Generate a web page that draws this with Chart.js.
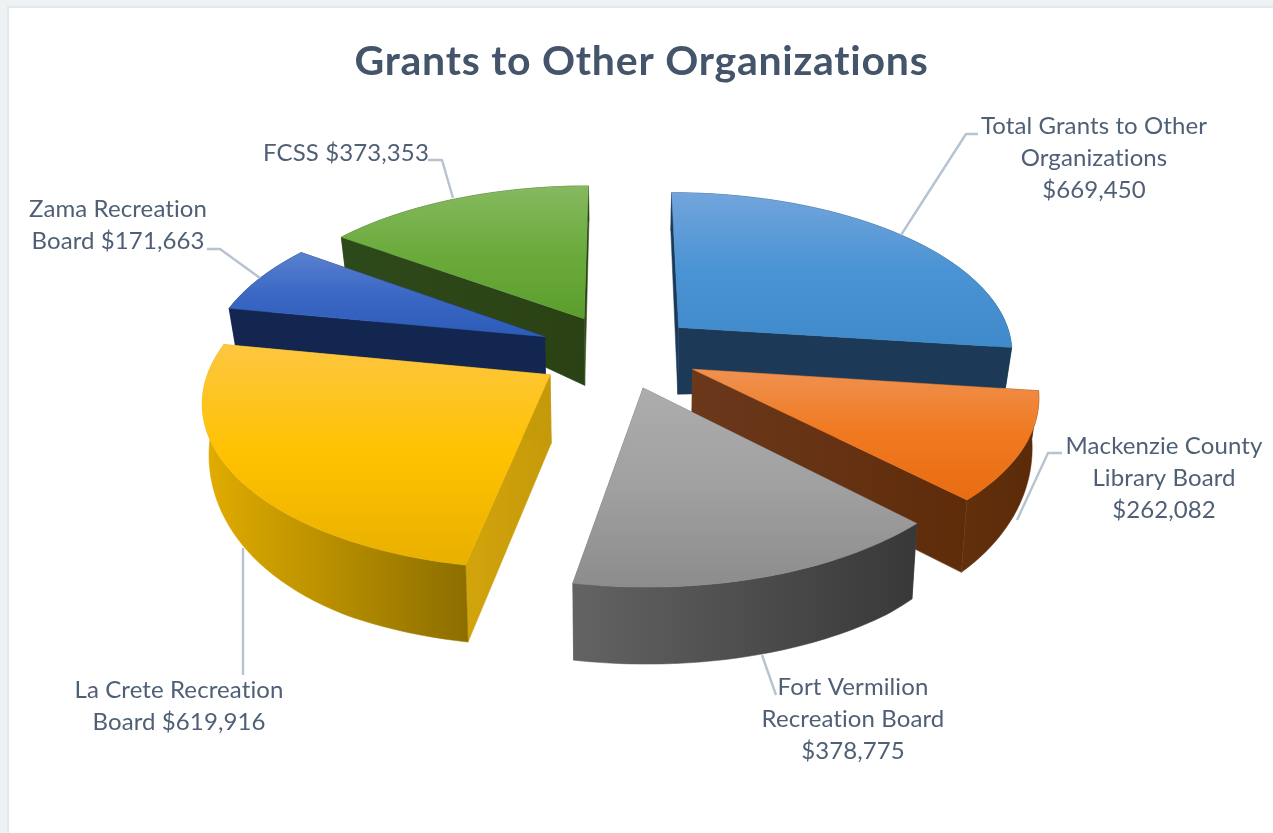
<!DOCTYPE html>
<html><head><meta charset="utf-8">
<style>
html,body{margin:0;padding:0;width:1273px;height:833px;overflow:hidden;background:#edf3f4}
#frame{position:absolute;left:7px;top:6px;width:1266px;height:827px;background:#fff;border-left:2px solid #e2e9ee;border-top:2px solid #e2e9ee;box-sizing:border-box}
#wrap{position:absolute;left:5px;top:0;width:1273px;height:833px}
</style>
<script src="https://cdn.jsdelivr.net/npm/chart.js@4/dist/chart.umd.min.js"></script>
</head><body>
<div id="frame"></div>
<div id="wrap"><canvas id="c" width="1273" height="833"></canvas></div>
<script>
const categories = ["Total Grants to Other Organizations","Mackenzie County Library Board","Fort Vermilion Recreation Board","La Crete Recreation Board","Zama Recreation Board","FCSS"];
const values = [669450,262082,378775,619916,171663,373353];
const chartTitle = "Grants to Other Organizations";
const labelWordsPerLine = [[4,1,1],[2,2,1],[2,2,1],[3,2],[2,2],[2]];
const sliceOffsets = [78,78,75,81,81,79];

// styling
const topColors = [["#72a5dc","#4a93d4","#3f8aca"],["#ef9150","#f0791f","#e86c12"],["#adadad","#a0a0a0","#8c8c8c"],["#fdc640","#ffc200","#e8b000"],["#5a80cf","#3a68c4","#2d5cb8"],["#86b960","#6bab3c","#5c9e2e"]];
const wallColors = [["#1c3a58","#1a3a56"],["#63300d","#5a2a08"],["#636363","#383838"],["#e2ad00","#8c6e00"],["#14264f","#122650"],["#2d4a1b","#283f14"]];
const radialColors = [["#1c3a58","#1c3a58"],["#6c381c","#5f2c0a"],["#636363","#505050"],["#d2a40c","#c59a0a"],["#14264f","#122650"],["#2f4a1a","#2a4114"]];
const drawOrder = [0,5,4,3,1,2];
const labelBoxes = [
 {x:1089,y:126,leader:[[973,134],[961,134],[896,235]]},
 {x:1159,y:446,leader:[[1057,453],[1043,453],[1012,520]]},
 {x:848,y:687,leader:[[771,695],[757,655]]},
 {x:174,y:690,leader:[[238,675],[238,548]]},
 {x:113,y:209,leader:[[202,249],[215,249],[255,278]]},
 {x:341,y:153,leader:[[423,160],[437,160],[448,198]]}
];
const TEXT="#4f5f76", TITLE="#44546a", LEADER="#b7c3d0";

// projection of the pie plane (canvas coords; canvas is shifted 5px right)
const view={x:615,y:352,k:336,sy:160,p:0.14};
function top3d(u,v){const w=1-view.p*v;return {x:view.x+u*view.k/w,y:view.y+v*view.sy/w};}
function depth(u,v){const n=Math.min(1,Math.max(0,v));return 68+9*n-20*u*u*(1-n)-(v<0?22*v*v:0);}
function bot3d(u,v){const t=top3d(u,v);return {x:t.x+(view.x-t.x)*0.016,y:t.y+depth(u,v)};}

function sliceGeom(arc){
  const mid=(arc.startAngle+arc.endAngle)/2, off=arc.options.offset/arc.outerRadius;
  const ou=off*Math.cos(mid), ov=off*Math.sin(mid);
  const rim=[];const n=48;
  for(let i=0;i<=n;i++){const a=arc.startAngle+(arc.endAngle-arc.startAngle)*i/n;rim.push([Math.cos(a)+ou,Math.sin(a)+ov]);}
  return {tip:[ou,ov],rim};
}
function poly(ctx,pts){ctx.beginPath();pts.forEach((p,i)=>i?ctx.lineTo(p.x,p.y):ctx.moveTo(p.x,p.y));ctx.closePath();}
function hGrad(ctx,pts,c){const xs=pts.map(p=>p.x);const g=ctx.createLinearGradient(Math.min(...xs),0,Math.max(...xs),0);c.forEach((s,i)=>g.addColorStop(i/(c.length-1),s));return g;}
function vGrad(ctx,pts,c){const ys=pts.map(p=>p.y);const g=ctx.createLinearGradient(0,Math.min(...ys),0,Math.max(...ys));c.forEach((s,i)=>g.addColorStop(i/(c.length-1),s));return g;}
function fill(ctx,pts,style){poly(ctx,pts);ctx.fillStyle=style;ctx.fill();ctx.strokeStyle=style;ctx.lineWidth=0.5;ctx.stroke();}

const pie3d={id:'pie3d',
 beforeDraw(chart){chart.ctx.letterSpacing='0.75px';},
 beforeDatasetsDraw(chart){
  const ctx=chart.ctx, arcs=chart.getDatasetMeta(0).data;
  ctx.save();ctx.lineJoin='round';
  drawOrder.forEach(i=>{
    const g=sliceGeom(arcs[i]);
    const T=(p)=>top3d(p[0],p[1]),B=(p)=>bot3d(p[0],p[1]);
    const tip=g.tip, a=g.rim[0], b=g.rim[g.rim.length-1];
    [a,b].forEach(e=>{const q=[T(tip),T(e),B(e),B(tip)];fill(ctx,q,hGrad(ctx,q,radialColors[i]));});
    const wall=g.rim.map(T).concat(g.rim.slice().reverse().map(B));
    fill(ctx,wall,hGrad(ctx,wall,wallColors[i]));
    const face=[T(tip)].concat(g.rim.map(T));
    fill(ctx,face,vGrad(ctx,face,topColors[i]));
  });
  ctx.restore();
  return false;
 },
 afterDraw(chart){
  const ctx=chart.ctx;ctx.save();
  ctx.letterSpacing='0.1px';
  labelBoxes.forEach((box,i)=>{
    ctx.beginPath();box.leader.forEach((p,j)=>j?ctx.lineTo(p[0],p[1]):ctx.moveTo(p[0],p[1]));
    ctx.strokeStyle=LEADER;ctx.lineWidth=2.4;ctx.lineJoin='round';ctx.stroke();
    const words=(categories[i]+" $"+values[i].toLocaleString('en-US')).split(' ');
    let w=0;
    ctx.font='24px Lato';ctx.fillStyle=TEXT;ctx.textAlign='center';ctx.textBaseline='middle';
    labelWordsPerLine[i].forEach((cnt,li)=>{
      ctx.fillText(words.slice(w,w+cnt).join(' '),box.x,box.y+li*32);w+=cnt;
    });
  });
  ctx.restore();
 }
};

new Chart(document.getElementById('c'),{
 type:'pie',
 data:{labels:categories,datasets:[{data:values,offset:sliceOffsets,backgroundColor:topColors.map(c=>c[1]),borderWidth:0}]},
 options:{responsive:false,animation:false,rotation:0,
  plugins:{legend:{display:false},tooltip:{enabled:false},
   title:{display:true,text:chartTitle,color:TITLE,font:{family:'Lato',size:41,weight:'bold'},padding:{top:37,bottom:10}}}},
 plugins:[pie3d]
});
</script>
</body></html>
